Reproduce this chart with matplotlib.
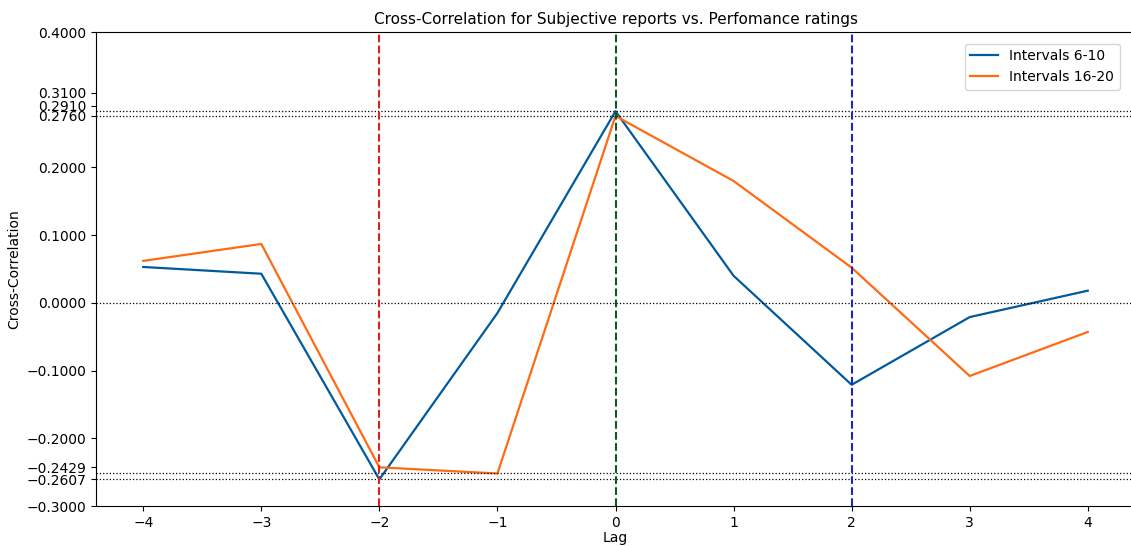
import numpy as np
import matplotlib
matplotlib.use("Agg")
import matplotlib.pyplot as plt

# data
lags = [-4, -3, -2, -1, 0, 1, 2, 3, 4]
ccf_6_10 = [0.053, 0.043, -0.2607, -0.015, 0.283, 0.040, -0.121, -0.021, 0.018]
ccf_16_20 = [0.062, 0.087, -0.2429, -0.252, 0.276, 0.180, 0.052, -0.108, -0.043]
ytick_vals = [-0.3, -0.2607, -0.2429, -0.2, -0.1, 0.0, 0.1, 0.2, 0.276, 0.291, 0.31, 0.4]
marked_lags = [-2, 0, 2]
marked_colors = ["#dd1f1f", "#0d5a1e", "#2323c8"]


def main():
    fig = plt.figure(figsize=(11.31, 5.46), dpi=100)
    ax = fig.add_axes([96 / 1131, 40 / 546, (1135 - 96) / 1131, 474 / 546])

    ax.plot(lags, ccf_6_10, color="#005a9c", lw=1.6, label="Intervals 6-10")
    ax.plot(lags, ccf_16_20, color="#ff6a13", lw=1.6, label="Intervals 16-20")

    # reference lines
    ax.axhline(0, color="black", ls=":", lw=0.9)
    for v in [max(ccf_6_10), max(ccf_16_20), min(ccf_6_10), min(ccf_16_20)]:
        ax.axhline(v, color="black", ls=":", lw=0.9)
    for lag, c in zip(marked_lags, marked_colors):
        ax.axvline(lag, color=c, ls="--", lw=1.5)

    ax.set_xlim(-4.4, 4.4)
    ax.set_ylim(-0.3, 0.4)
    ax.set_xticks(lags)
    ax.set_xticklabels([str(l).replace("-", "\u2212") for l in lags])
    ax.set_yticks(ytick_vals)
    ax.set_yticklabels([f"{v:.4f}".replace("-", "\u2212") for v in ytick_vals])

    ax.set_title("Cross-Correlation for Subjective reports vs. Perfomance ratings", fontsize=11)
    ax.set_xlabel("Lag", labelpad=1)
    ax.set_ylabel("Cross-Correlation")
    ax.legend(loc="upper right", bbox_to_anchor=(0.992, 0.99))

    fig.savefig("out.png", dpi=100)


if __name__ == "__main__":
    main()
